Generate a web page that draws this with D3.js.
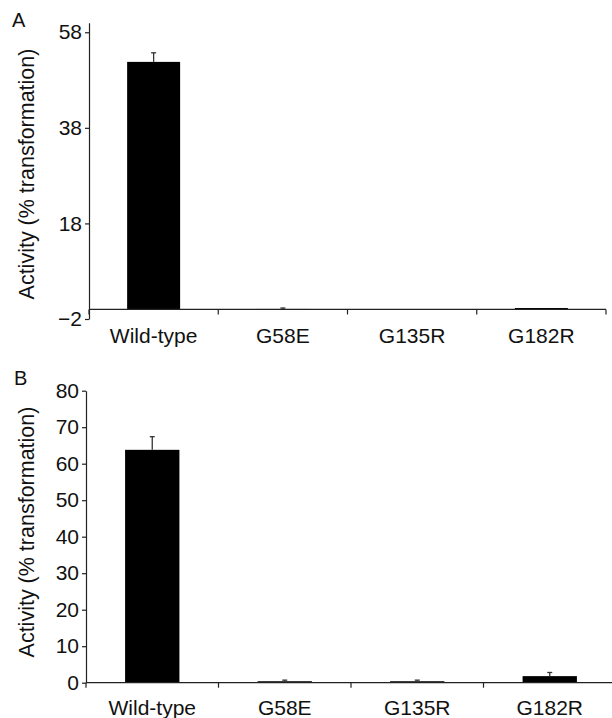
<!DOCTYPE html>
<html>
<head>
<meta charset="utf-8">
<script src="https://cdn.jsdelivr.net/npm/d3@7"></script>
<style>
  body { margin: 0; background: #fff; }
  svg { display: block; font-family: "Liberation Sans", Arial, Helvetica, sans-serif; }
  .axis path, .axis line { stroke: #222; stroke-width: 1.2; }
  .axis text { font-size: 21px; fill: #111; }
</style>
</head>
<body>
<div id="chart"></div>
<script>
// Categories shared by both panels
var categories = ["Wild-type", "G58E", "G135R", "G182R"];

// Panel A values (% transformation) and error bars
var activityA = [51.8, 0.1, 0, 0.3];
var errorA = [1.9, 0.2, 0, 0];
var ticksA = [-2, 18, 38, 58];

// Panel B values (% transformation) and error bars
var activityB = [63.8, 0.4, 0.4, 1.8];
var errorB = [3.6, 0.3, 0.3, 1.0];
var ticksB = [0, 10, 20, 30, 40, 50, 60, 70, 80];

var width = 612, height = 718;

var svg = d3.select("#chart")
    .append("svg")
    .attr("width", width)
    .attr("height", height);

// Draw one bar panel
function drawPanel(opts) {
    var g = svg.append("g");

    var x = d3.scaleBand()
        .domain(categories)
        .range([opts.left, opts.right])
        .padding(0);

    var y = d3.scaleLinear()
        .domain(opts.domain)
        .range([opts.bottom, opts.top]);

    var barW = x.bandwidth() * 0.41;
    var y0 = y(0);

    // bars
    g.selectAll(".bar")
        .data(opts.values)
        .enter()
        .append("rect")
        .attr("x", (d, i) => x(categories[i]) + x.bandwidth() / 2 - barW / 2)
        .attr("y", d => y(d))
        .attr("width", barW)
        .attr("height", d => Math.max(0, y0 - y(d)))
        .attr("fill", "#000");

    // error bars (upper only)
    opts.values.forEach(function (v, i) {
        var e = opts.errors[i];
        if (!e) return;
        var cx = x(categories[i]) + x.bandwidth() / 2;
        g.append("line")
            .attr("x1", cx).attr("x2", cx)
            .attr("y1", y(v)).attr("y2", y(v + e))
            .attr("stroke", "#333").attr("stroke-width", 1.3);
        g.append("line")
            .attr("x1", cx - 2.5).attr("x2", cx + 2.5)
            .attr("y1", y(v + e)).attr("y2", y(v + e))
            .attr("stroke", "#333").attr("stroke-width", 1.3);
    });

    // y axis
    g.append("g")
        .attr("class", "axis")
        .attr("transform", "translate(" + opts.left + ",0)")
        .call(d3.axisLeft(y).tickValues(opts.ticks).tickSize(4).tickSizeOuter(0).tickPadding(3)
            .tickFormat(d => d < 0 ? "\u2212" + Math.abs(d) : d));

    // x axis line at zero
    g.append("line")
        .attr("x1", opts.left).attr("x2", opts.right)
        .attr("y1", y0).attr("y2", y0)
        .attr("stroke", "#222").attr("stroke-width", 1.2);

    // category boundary ticks
    var bounds = categories.map(c => x(c)).concat([opts.right]);
    g.selectAll(".btick")
        .data(bounds)
        .enter()
        .append("line")
        .attr("x1", d => d).attr("x2", d => d)
        .attr("y1", y0).attr("y2", y0 + 5)
        .attr("stroke", "#222").attr("stroke-width", 1.2);

    // category labels
    g.selectAll(".clabel")
        .data(categories)
        .enter()
        .append("text")
        .attr("x", d => x(d) + x.bandwidth() / 2)
        .attr("y", y0 + opts.labelOffset)
        .attr("text-anchor", "middle")
        .attr("font-size", "21px")
        .attr("fill", "#111")
        .text(d => d);

    // y axis title
    g.append("text")
        .attr("transform", "translate(" + opts.titleX + "," + opts.titleY + ") rotate(-90)")
        .attr("text-anchor", "middle")
        .attr("font-size", "21.5px")
        .attr("fill", "#111")
        .text("Activity (% transformation)");

    // panel letter
    g.append("text")
        .attr("x", opts.letterX)
        .attr("y", opts.letterY)
        .attr("font-size", "20px")
        .attr("fill", "#111")
        .text(opts.letter);
}

drawPanel({
    values: activityA, errors: errorA, ticks: ticksA,
    domain: [-2, 60], left: 89, right: 606, top: 22.7, bottom: 319,
    labelOffset: 34, titleX: 34, titleY: 174,
    letter: "A", letterX: 12, letterY: 27
});

drawPanel({
    values: activityB, errors: errorB, ticks: ticksB,
    domain: [0, 80], left: 86, right: 616, top: 390.7, bottom: 682.7,
    labelOffset: 32, titleX: 34, titleY: 532,
    letter: "B", letterX: 14, letterY: 385
});
</script>
</body>
</html>
